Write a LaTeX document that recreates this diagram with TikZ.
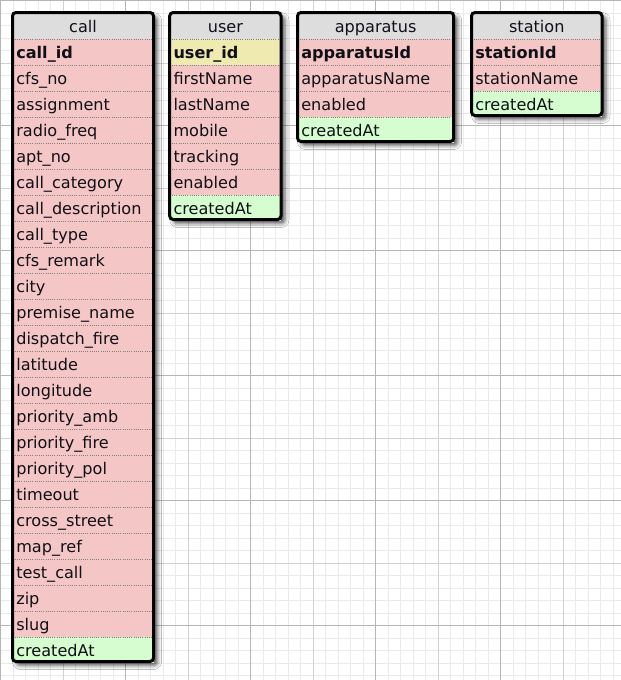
\documentclass[tikz,border=0pt]{standalone}
\usepackage{fontspec}
\setmainfont{DejaVu Sans}
\usetikzlibrary{shadows.blur}
\definecolor{hdrc}{RGB}{221,221,221}
\definecolor{pinkc}{RGB}{245,198,198}
\definecolor{yelc}{RGB}{238,234,176}
\definecolor{grnc}{RGB}{214,253,207}
\definecolor{gminc}{RGB}{234,234,234}
\definecolor{gmedc}{RGB}{210,210,210}
\definecolor{gmajc}{RGB}{182,182,182}
\definecolor{txtc}{RGB}{16,16,24}
\tikzset{
  gminor/.style={draw=gminc, line width=1pt},
  gmed/.style={draw=gmedc, line width=1pt},
  gmaj/.style={draw=gmajc, line width=1pt},
  tshadow/.style={blur shadow={shadow xshift=4pt, shadow yshift=-4pt, shadow blur radius=4pt, shadow opacity=65}},
  tborder/.style={draw=black, line width=3pt, rounded corners=3.5pt},
  rowsep/.style={draw=black!50, line width=0.8pt, dash pattern=on 1pt off 1.2pt},
  celltext/.style={anchor=base west, inner sep=0pt, font=\fontsize{16.1}{19}\selectfont, text=txtc},
  titletext/.style={anchor=base, inner sep=0pt, font=\fontsize{16.1}{19}\selectfont, text=txtc},
}
% #1 name, #2 left, #3 right, #4 title, #5 number of rows, #6 rows text/colour/font
\newcommand\dbtable[6]{%
  \path[tshadow, rounded corners=3.5pt] (#2,12.5) rectangle (#3,39+26*#5-1.5);
  \fill[hdrc] (#2,12.5) rectangle (#3,39);
  \node[titletext] (#1-title) at ({(#2+#3)/2},32.7) {#4};
  \foreach \t/\c/\f [count=\i] in {#6} {
    \fill[\c] (#2,39+26*\i-26) rectangle (#3,39+26*\i);
    \draw[rowsep] (#2,39+26*\i-26) -- (#3,39+26*\i-26);
    \node[celltext] (#1-\i) at (#2+3.6,39+26*\i-6.7) {\f\t};
  }
  \draw[tborder] (#2,12.5) rectangle (#3,39+26*#5-1.5);
}
\begin{document}
\begin{tikzpicture}[x=1pt,y=-1pt]
\useasboundingbox (0,0) rectangle (621,680);
\fill[white] (0,0) rectangle (621,680);
\foreach \k in {0,...,54} {
  \draw[gminor] (12.5*\k+0.5,0) -- (12.5*\k+0.5,680);
  \draw[gminor] (0,12.5*\k+0.5) -- (621,12.5*\k+0.5);
}
\foreach \k in {0,...,10} {
  \draw[gmed] (62.5*\k+0.5,0) -- (62.5*\k+0.5,680);
  \draw[gmed] (0,62.5*\k+0.5) -- (621,62.5*\k+0.5);
}
\foreach \k in {0,...,5} {
  \draw[gmaj] (125*\k+0.5,0) -- (125*\k+0.5,680);
  \draw[gmaj] (0,125*\k+0.5) -- (621,125*\k+0.5);
}
\dbtable{call}{12.5}{153.5}{call}{24}{call\_id/pinkc/\bfseries, cfs\_no/pinkc/, assignment/pinkc/, radio\_freq/pinkc/, apt\_no/pinkc/, call\_category/pinkc/, call\_description/pinkc/, call\_type/pinkc/, cfs\_remark/pinkc/, city/pinkc/, premise\_name/pinkc/, dispatch\_fire/pinkc/, latitude/pinkc/, longitude/pinkc/, priority\_amb/pinkc/, priority\_fire/pinkc/, priority\_pol/pinkc/, timeout/pinkc/, cross\_street/pinkc/, map\_ref/pinkc/, test\_call/pinkc/, zip/pinkc/, slug/pinkc/, createdAt/grnc/}
\dbtable{user}{169.7}{281}{user}{7}{user\_id/yelc/\bfseries, firstName/pinkc/, lastName/pinkc/, mobile/pinkc/, tracking/pinkc/, enabled/pinkc/, createdAt/grnc/}
\dbtable{app}{297.5}{453.7}{apparatus}{4}{apparatusId/pinkc/\bfseries, apparatusName/pinkc/, enabled/pinkc/, createdAt/grnc/}
\dbtable{sta}{471.5}{602}{station}{3}{stationId/pinkc/\bfseries, stationName/pinkc/, createdAt/grnc/}
\end{tikzpicture}
\end{document}
